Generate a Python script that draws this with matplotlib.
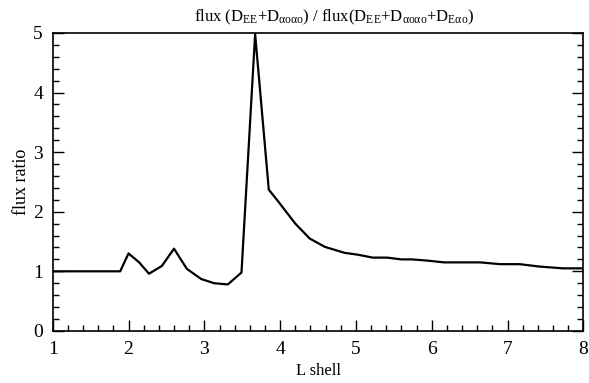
import matplotlib
matplotlib.use('Agg')
import matplotlib.pyplot as plt
from matplotlib.ticker import MultipleLocator

plt.rcParams['font.family'] = ['Liberation Serif', 'DejaVu Serif']
plt.rcParams['mathtext.fontset'] = 'custom'
plt.rcParams['mathtext.rm'] = 'Liberation Serif'
plt.rcParams['mathtext.it'] = 'Liberation Serif:italic'

# L shell values and the flux ratio
l_shell = [1.0, 1.89, 2.0, 2.14, 2.27, 2.44, 2.6, 2.77, 2.96, 3.13, 3.31, 3.49,
           3.67, 3.85, 3.97, 4.2, 4.39, 4.59, 4.85, 5.02, 5.22, 5.41, 5.6,
           5.74, 5.94, 6.16, 6.64, 6.9, 7.16, 7.42, 7.73, 8.0]
flux_ratio = [1.0, 1.0, 1.30, 1.15, 0.96, 1.09, 1.38, 1.04, 0.87, 0.80, 0.78, 0.98,
              4.98, 2.37, 2.18, 1.80, 1.55, 1.41, 1.31, 1.28, 1.23, 1.23, 1.20,
              1.20, 1.18, 1.15, 1.15, 1.12, 1.12, 1.08, 1.05, 1.05]

fig = plt.figure(figsize=(5.89, 3.83), dpi=100)
ax = fig.add_axes([0.0895, 0.136, 0.901, 0.778])

ax.plot(l_shell, flux_ratio, color='black', linewidth=1.6)

ax.set_xlim(1, 8)
ax.set_ylim(0, 5)
ax.xaxis.set_major_locator(MultipleLocator(1))
ax.xaxis.set_minor_locator(MultipleLocator(0.2))
ax.yaxis.set_major_locator(MultipleLocator(1))
ax.yaxis.set_minor_locator(MultipleLocator(0.2))
ax.tick_params(which='both', direction='in', top=False, right=True, labelsize=14, width=1)
ax.tick_params(which='major', length=8, pad=7)
ax.tick_params(which='minor', length=4)
for s in ax.spines.values():
    s.set_linewidth(1.2)

ax.set_xlabel('L shell', fontsize=12, labelpad=4)
ax.set_ylabel('flux ratio', fontsize=13, labelpad=2)
ax.set_title(r'flux (D$_{\mathrm{EE}}$+D$_{\mathrm{αoαo}}$) / flux(D$_{\mathrm{EE}}$+D$_{\mathrm{αoαo}}$+D$_{\mathrm{Eαo}}$)',
             fontsize=12, pad=8, x=0.53)

fig.savefig('out.png', dpi=100)
